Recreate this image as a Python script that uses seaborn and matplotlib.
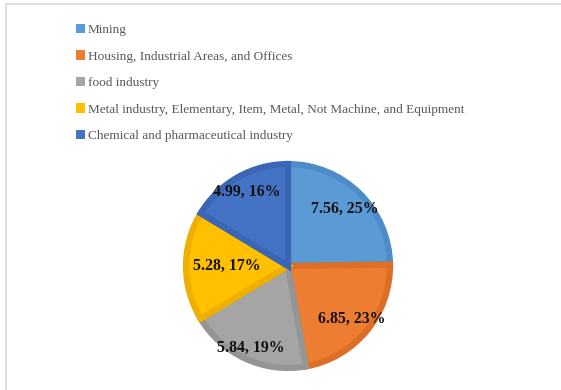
import matplotlib
matplotlib.use("Agg")
import matplotlib.pyplot as plt
from matplotlib.patches import Rectangle, Patch
import numpy as np
import seaborn as sns

# Sector shares
categories = [
    "Mining",
    "Housing, Industrial Areas, and Offices",
    "food industry",
    "Metal industry, Elementary, Item, Metal, Not Machine, and Equipment",
    "Chemical and pharmaceutical industry",
]
values = [7.56, 6.85, 5.84, 5.28, 4.99]
percent_labels = ["25%", "23%", "19%", "17%", "16%"]

sns.set_theme(style="white")
plt.rcParams["font.family"] = ["Liberation Serif", "DejaVu Serif"]

fill_colors = sns.color_palette(["#5B9BD5", "#ED7D31", "#A5A5A5", "#FFC000", "#4472C4"])
edge_colors = sns.color_palette(["#4D8CC6", "#DC6E25", "#959595", "#EDB000", "#3B66B5"])

W, H = 561, 390
fig = plt.figure(figsize=(W / 100, H / 100), dpi=100)
fig.patch.set_facecolor("white")

# chart-area border
fig.add_artist(Rectangle((6 / W, -0.01), 1.02, 1 - 4 / H + 0.01, transform=fig.transFigure,
                         fill=False, edgecolor="#d9d9d9", linewidth=1.2))

cx, cy, r = 288, 266, 104
ax = fig.add_axes([(cx - r) / W, (H - cy - r) / H, 2 * r / W, 2 * r / H])
wedges, _ = ax.pie(values, colors=fill_colors, startangle=90, counterclock=False,
                   radius=1.0, wedgeprops=dict(linewidth=4.5, joinstyle="miter"))
for w, ec in zip(wedges, edge_colors):
    w.set_edgecolor(ec)
    w.set_clip_path(w)
ax.set_xlim(-1.02, 1.02)
ax.set_ylim(-1.02, 1.02)
ax.set_aspect("equal")
ax.axis("off")

# data labels: value and share
label_radius = [0.79, 0.81, 0.88, 0.60, 0.83]
for w, v, p, lr in zip(wedges, values, percent_labels, label_radius):
    ang = np.deg2rad((w.theta1 + w.theta2) / 2)
    ax.text(lr * np.cos(ang), lr * np.sin(ang), f"{v:.2f}, {p}", ha="center", va="center",
            fontsize=11.4, fontweight="bold", color="#111111")

handles = [Patch(facecolor=c, edgecolor="none") for c in fill_colors]
fig.legend(handles, categories, loc="upper left", bbox_to_anchor=(76 / W, 1 - 24 / H),
           frameon=False, fontsize=9.5, labelcolor="#595959", handlelength=0.7,
           handleheight=0.7, handletextpad=0.2, labelspacing=1.08, borderpad=0,
           borderaxespad=0)

fig.savefig("out.png", dpi=100, facecolor="white")
